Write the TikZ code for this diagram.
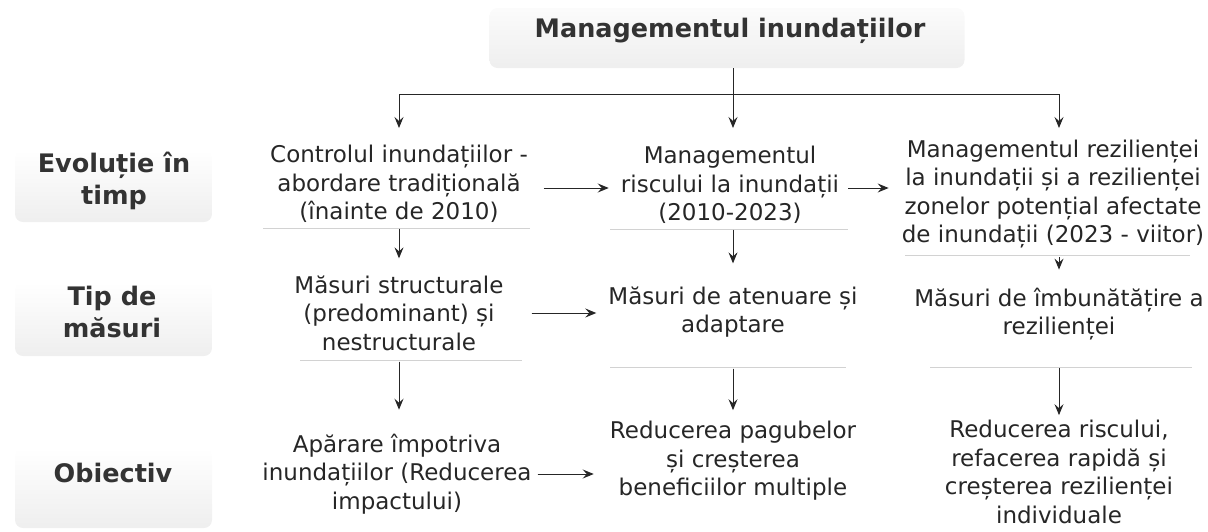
\documentclass[tikz,border=0pt]{standalone}
\usepackage{fontspec}
\setmainfont{DejaVu Sans}
\usetikzlibrary{arrows.meta,calc}
\begin{document}
\begin{tikzpicture}[x=1pt,y=-1pt,
  txt/.style={align=center, inner sep=0pt, font=\fontsize{23}{28.5}\selectfont, text=black!85},
  lbl/.style={align=center, inner sep=0pt, font=\bfseries\fontsize{25.5}{32}\selectfont, text=black!80},
  arr/.style={-{Stealth[length=11pt,width=9pt,inset=4pt]}, line width=1pt, draw=black!85, fill=black!85},
  plain/.style={line width=1pt, draw=black!85},
  uline/.style={draw=gray!35, line width=0.8pt},
  bg/.style={top color=white, bottom color=gray!13, rounded corners=8pt, draw=none}]
\useasboundingbox (0,0) rectangle (1208,531);

% backgrounds
\node[bg, top color=gray!3, bottom color=gray!13, minimum width=475pt, minimum height=60pt, inner sep=0pt] (Tbox) at (727,38) {};
\shade[bg] (15,150) rectangle (212,222);
\shade[bg] (15,282) rectangle (212,356);
\shade[bg] (15,448) rectangle (212,528);

% title and labels
\node[lbl] (T) at (730,31) {Managementul inundațiilor};
\node[lbl] (L1) at (114,181) {Evoluție în\\timp};
\node[lbl] (L2) at (112,312) {Tip de\\măsuri};
\node[lbl] (L3) at (113,473) {Obiectiv};

% row 1
\node[txt] (C1) at (399,184) {Controlul inundațiilor -\\abordare tradițională\\(înainte de 2010)};
\node[txt] (C2) at (730,185) {Managementul\\riscului la inundații\\(2010-2023)};
\node[txt] (C3) at (1053,194) {Managementul rezilienței\\la inundații și a rezilienței\\zonelor potențial afectate\\de inundații (2023 - viitor)};
% row 2
\node[txt] (M1) at (399,313) {Măsuri structurale\\(predominant) și\\nestructurale};
\node[txt] (M2) at (733,312) {Măsuri de atenuare și\\adaptare};
\node[txt] (M3) at (1059,314) {Măsuri de îmbunătățire a\\rezilienței};
% row 3
\node[txt] (O1) at (397,474) {Apărare împotriva\\inundațiilor (Reducerea\\impactului)};
\node[txt] (O2) at (733,461) {Reducerea pagubelor\\și creșterea\\beneficiilor multiple};
\node[txt] (O3) at (1059,472) {Reducerea riscului,\\refacerea rapidă și\\creșterea rezilienței\\individuale};

% underlines
\draw[uline] ($(C1.south)+(-136,5)$) -- ($(C1.south)+(131,5)$);
\draw[uline] ($(C2.south)+(-120,5)$) -- ($(C2.south)+(118,5)$);
\draw[uline] ($(C3.south)+(-148,7)$) -- ($(C3.south)+(137,7)$);
\draw[uline] ($(M1.south)+(-99,10)$) -- ($(M1.south)+(123,10)$);
\draw[uline] ($(M2.south)+(-123,30)$) -- ($(M2.south)+(113,30)$);
\draw[uline] ($(M3.south)+(-129,27)$) -- ($(M3.south)+(133,27)$);

% top distribution
\coordinate (hM) at (733,94);
\coordinate (hL) at (C1.north |- hM);
\coordinate (hR) at (M3.north |- hM);
\draw[plain] (Tbox.south -| hM) -- (hM);
\draw[plain] (hL) -- (hR);
\draw[arr] (hL) -- ($(hL)+(0,34)$);
\draw[arr] (hM) -- ($(hM)+(0,34)$);
\draw[arr] (hR) -- ($(hR)+(0,34)$);

% vertical arrows
\draw[arr, shorten <=6pt, shorten >=17pt] (C1.south) -- (M1.north);
\draw[arr, shorten <=6pt, shorten >=23pt] (C2.south -| M2.north) -- (M2.north);
\draw[arr, shorten <=9pt, shorten >=18pt] (C3.south -| M3.north) -- (M3.north);
\draw[arr, shorten <=11pt, shorten >=24pt] (M1.south) -- (O1.north -| M1.south);
\draw[arr, shorten <=31pt, shorten >=11pt] (M2.south) -- (O2.north);
\draw[arr, shorten <=28pt, shorten >=5pt] (M3.south) -- (O3.north);

% horizontal arrows
\draw[arr] ($(C1.east)+(16,4)$) -- ($(C2.west |- C1.east)+(-12,4)$);
\draw[arr] ($(C2.east)+(9,3)$) -- ($(C3.west |- C2.east)+(-13,3)$);
\draw[arr] ($(M1.east)+(28,0)$) -- ($(M2.west |- M1.east)+(-12,0)$);
\draw[arr] ($(O1.east)+(6,0)$) -- ($(O2.west |- O1.east)+(-16,0)$);
\end{tikzpicture}
\end{document}
